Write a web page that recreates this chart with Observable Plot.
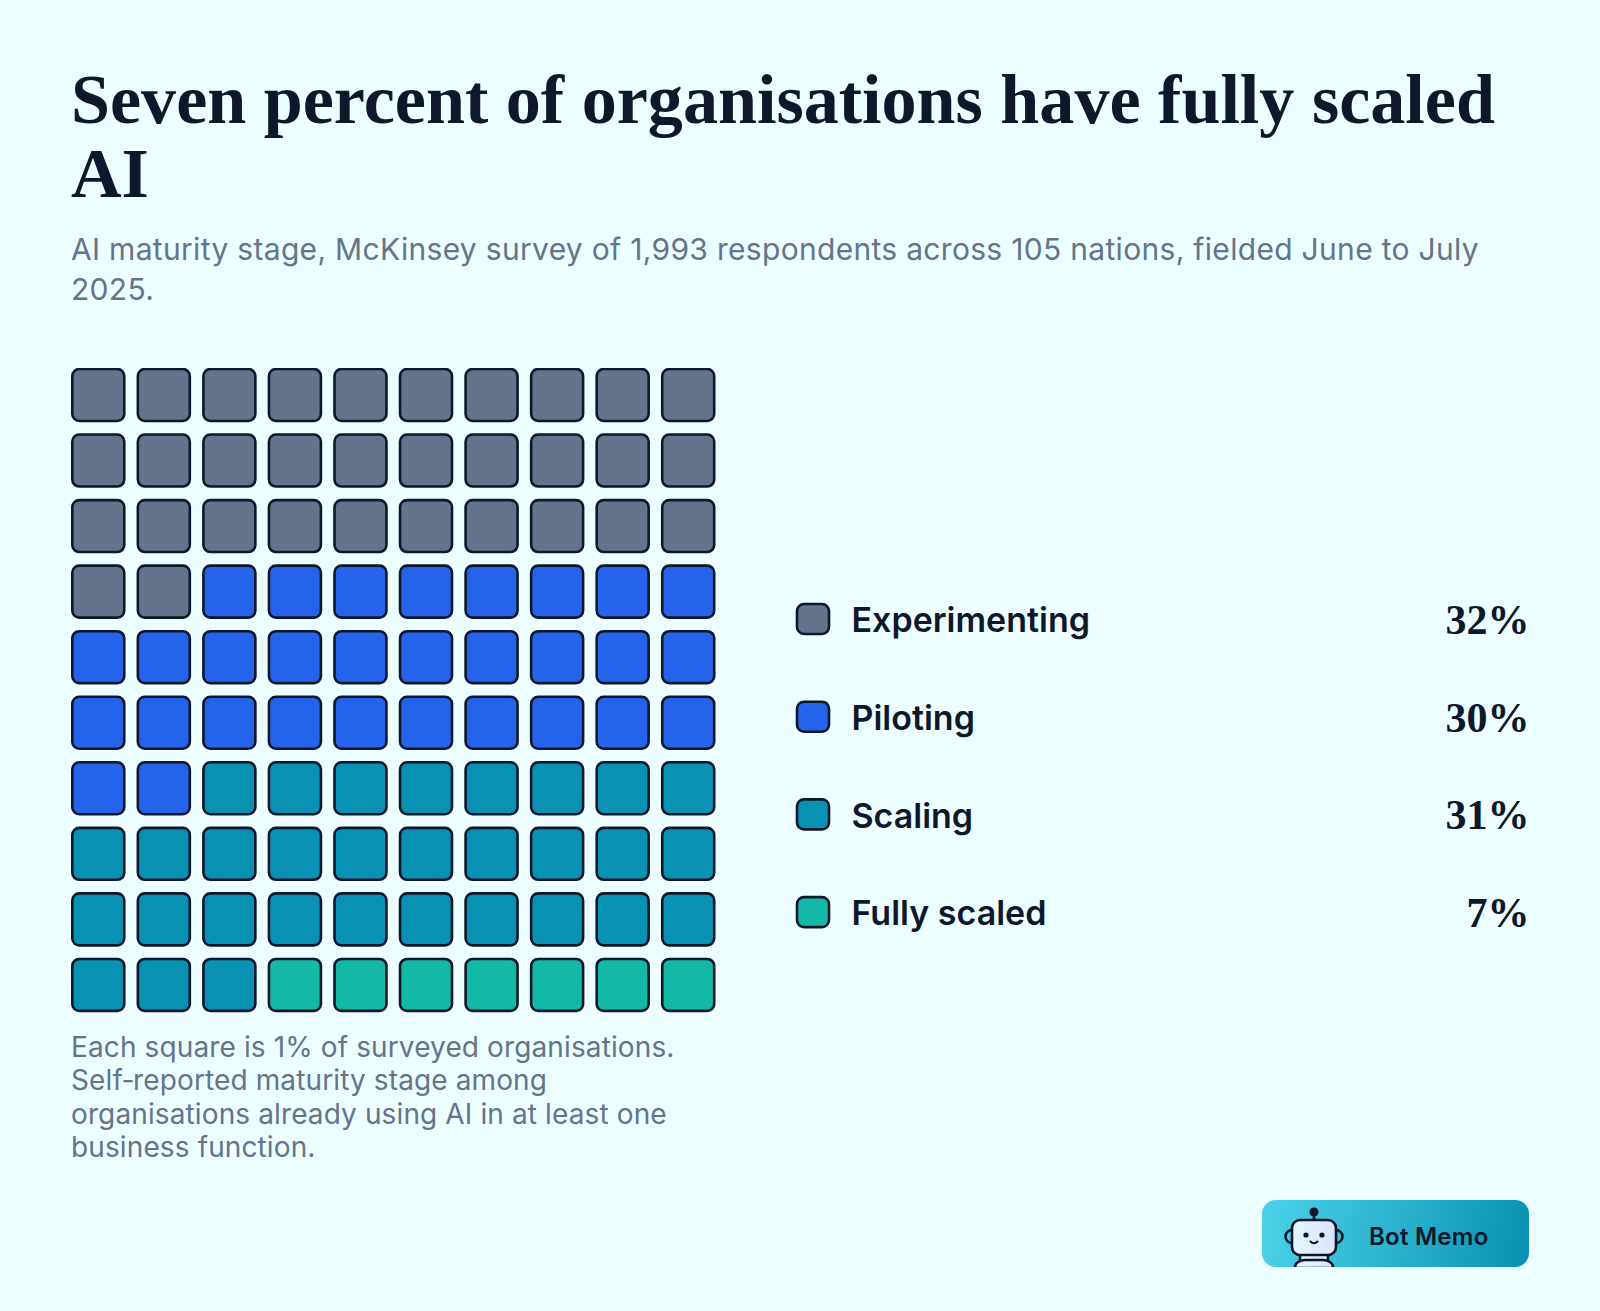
<!DOCTYPE html>
<html><head><meta charset="utf-8">
<script src="https://cdn.jsdelivr.net/npm/d3@7"></script>
<script src="https://cdn.jsdelivr.net/npm/@observablehq/plot@0.6"></script>
<style>
html,body{margin:0;padding:0;background:#ecfeff;}
body{width:1600px;height:1311px;position:relative;overflow:hidden;font-family:Inter,sans-serif;color:#0f172a;}
.abs{position:absolute;margin:0;}
#title{left:71px;top:63px;width:1456px;font:700 70.1px/74px "Liberation Serif",serif;letter-spacing:0;}
#subtitle{left:71px;top:229px;width:1456px;font:400 30px/40px Inter,sans-serif;letter-spacing:0.31px;color:#64748b;}
#note{left:71px;top:1031px;width:644px;font:400 28px/33.4px Inter,sans-serif;letter-spacing:0.12px;color:#64748b;}
#waffle{left:71px;top:368px;}
#legend{left:779px;top:587px;}
#logo{left:1262px;top:1200px;width:267px;height:67px;border-radius:14px;overflow:hidden;background:linear-gradient(100deg,#4dd2ea,#0891b2);}
#logo svg{position:absolute;left:0;top:0;}
#logo span{position:absolute;left:107px;top:22px;font:600 24px/30px Inter,sans-serif;letter-spacing:0.25px;color:#0f172a;}
svg{display:block;}
</style></head>
<body>
<h1 class="abs" id="title">Seven percent of organisations have fully scaled AI</h1>
<p class="abs" id="subtitle">AI maturity stage, McKinsey survey of 1,993 respondents across 105 nations, fielded June to July 2025.</p>
<div class="abs" id="waffle"></div>
<div class="abs" id="legend"></div>
<p class="abs" id="note">Each square is 1% of surveyed organisations. Self‑reported maturity stage among organisations already using AI in at least one business function.</p>
<div class="abs" id="logo">
<svg width="267" height="67" viewBox="0 0 267 67">
<defs><linearGradient id="face" x1="0" x2="1"><stop offset="0" stop-color="#e6f7fd"/><stop offset="1" stop-color="#dbe4ff"/></linearGradient></defs>
<g stroke="#0f172a" stroke-width="2.6" fill="url(#face)">
<path d="M30 30a6.5 6.5 0 0 0 0 13M74 30a6.5 6.5 0 0 1 0 13" fill="none"/>
<path d="M52 14v6" fill="none"/>
<rect x="38" y="52" width="28" height="10"/>
<path d="M33 68v-1c0-4 5-7 10-7h18c5 0 10 3 10 7v1z"/>
<rect x="30" y="20" width="44" height="35" rx="8"/>
</g>
<circle cx="52" cy="12" r="4.5" fill="#0f172a"/>
<circle cx="44" cy="35" r="2.6" fill="#0f172a"/><circle cx="60" cy="35" r="2.6" fill="#0f172a"/>
<path d="M48.500 41.500c2 2.200 5 2.200 7 0" fill="none" stroke="#0f172a" stroke-width="2" stroke-linecap="round"/>
</svg>
<span>Bot Memo</span>
</div>
<script>
const stages = ["Experimenting", "Piloting", "Scaling", "Fully scaled"];
const shares = [32, 30, 31, 7];
const colors = ["#64748b", "#2563eb", "#0891b2", "#14b8a6"];
const ink = "#0f172a";

const squares = stages.flatMap((stage, i) => d3.range(shares[i]).map(() => stage))
  .map((stage, i) => ({stage, col: i % 10, row: Math.floor(i / 10)}));
const colorScale = {domain: stages, range: colors, legend: false};

const waffle = Plot.plot({
  width: 646, height: 646, margin: 0,
  x: {type: "band", axis: null, domain: d3.range(10), range: [1.3, 643.2], paddingInner: 13.6 / 65.6, paddingOuter: 0, round: false},
  y: {type: "band", axis: null, domain: d3.range(10), range: [1, 642.9], paddingInner: 13.6 / 65.6, paddingOuter: 0, round: false},
  color: colorScale,
  style: {background: "transparent"},
  marks: [Plot.cell(squares, {x: "col", y: "row", fill: "stage", stroke: ink, strokeWidth: 2.6, rx: 7})]
});
document.getElementById("waffle").append(waffle);

const rows = stages.map((stage, i) => ({stage, share: shares[i] + "%"}));
const legend = Plot.plot({
  width: 760, height: 370, margin: 0,
  x: {type: "band", axis: null, domain: ["swatch"], range: [18, 50], padding: 0, round: false},
  y: {type: "band", axis: null, domain: stages, range: [17, 17 + 97.7 * 3 + 30], paddingInner: 67.7 / 97.7, paddingOuter: 0, round: false},
  color: colorScale,
  style: {background: "transparent"},
  marks: [
    Plot.cell(rows, {x: () => "swatch", y: "stage", fill: "stage", stroke: ink, strokeWidth: 2.6, rx: 7}),
    Plot.text(rows, {y: "stage", text: "stage", frameAnchor: "left", dx: 72, dy: 2, fill: ink, fontSize: 34, fontWeight: 600, letterSpacing: 0.45, fontFamily: "Inter, sans-serif"}),
    Plot.text(rows, {y: "stage", text: "share", frameAnchor: "right", dx: -10, dy: 1, fill: ink, fontSize: 42, fontWeight: 700, fontFamily: "Liberation Serif, serif"})
  ]
});
document.getElementById("legend").append(legend);
</script>
</body></html>
